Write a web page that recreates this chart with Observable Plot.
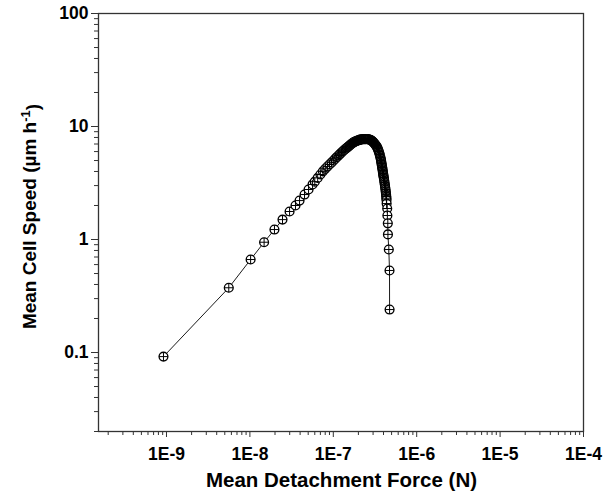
<!DOCTYPE html>
<html><head><meta charset="utf-8">
<script src="https://cdn.jsdelivr.net/npm/d3@7"></script>
<script src="https://cdn.jsdelivr.net/npm/@observablehq/plot@0.6"></script>
<style>html,body{margin:0;padding:0;background:#fff}#chart svg{display:block}</style>
</head><body><div id="chart"></div>
<script>
// Mean detachment force (N)
const force = [
  9.2e-10, 5.58e-9, 1.02e-8, 1.48e-8, 1.97e-8, 2.46e-8, 2.99e-8, 3.52e-8, 3.94e-8, 4.52e-8, 5.05e-8, 5.64e-8,
  6.0e-8, 6.5e-8, 7.0e-8, 7.5e-8, 8.0e-8, 8.5e-8, 9.0e-8, 9.5e-8, 1.0e-7, 1.05e-7, 1.1e-7, 1.15e-7, 1.2e-7,
  1.25e-7, 1.3e-7, 1.35e-7, 1.4e-7, 1.45e-7, 1.5e-7, 1.55e-7, 1.6e-7, 1.65e-7, 1.7e-7, 1.75e-7, 1.8e-7,
  1.85e-7, 1.9e-7, 1.95e-7, 2.0e-7, 2.05e-7, 2.1e-7, 2.15e-7, 2.2e-7, 2.25e-7, 2.3e-7, 2.35e-7, 2.4e-7, 2.45e-7,
  2.536e-7, 2.59e-7, 2.643e-7, 2.70e-7, 2.754e-7, 2.81e-7, 2.871e-7, 2.93e-7, 2.992e-7, 3.055e-7, 3.119e-7,
  3.185e-7, 3.251e-7, 3.305e-7, 3.360e-7, 3.41e-7, 3.464e-7, 3.51e-7, 3.561e-7, 3.60e-7, 3.641e-7, 3.676e-7,
  3.711e-7, 3.737e-7, 3.763e-7, 3.789e-7, 3.815e-7, 3.836e-7, 3.858e-7, 3.884e-7, 3.911e-7, 3.933e-7, 3.955e-7,
  3.977e-7, 3.999e-7, 4.027e-7, 4.055e-7, 4.083e-7, 4.111e-7, 4.14e-7, 4.168e-7, 4.197e-7, 4.226e-7, 4.25e-7,
  4.273e-7, 4.296e-7, 4.320e-7, 4.333e-7, 4.345e-7, 4.36e-7, 4.43e-7, 4.45e-7, 4.504e-7, 4.52e-7,
  4.63e-7, 4.72e-7, 4.73e-7
];
// Mean cell speed (µm/h)
const speed = [
  0.092, 0.374, 0.665, 0.946, 1.225, 1.50, 1.77, 2.00, 2.21, 2.50, 2.77, 3.07,
  3.25, 3.51, 3.76, 4.01, 4.22, 4.42, 4.61, 4.79, 4.98, 5.17, 5.35, 5.53, 5.70,
  5.87, 6.04, 6.20, 6.35, 6.48, 6.61, 6.74, 6.87, 7.01, 7.14, 7.23, 7.32,
  7.38, 7.44, 7.50, 7.55, 7.61, 7.66, 7.68, 7.69, 7.71, 7.72, 7.73, 7.74, 7.73,
  7.72, 7.71, 7.69, 7.67, 7.64, 7.58, 7.52, 7.42, 7.32, 7.20, 7.07,
  6.93, 6.79, 6.67, 6.55, 6.37, 6.19, 6.01, 5.83, 5.65, 5.48, 5.32,
  5.16, 5.00, 4.85, 4.70, 4.56, 4.45, 4.34, 4.21, 4.08, 3.96, 3.84,
  3.74, 3.65, 3.54, 3.43, 3.31, 3.19, 3.08, 2.98, 2.87, 2.77, 2.67,
  2.58, 2.49, 2.40, 2.32, 2.24, 2.08, 1.88, 1.63, 1.39, 1.11,
  0.816, 0.532, 0.240
];
const xMajorTicks = [1e-9, 1e-8, 1e-7, 1e-6, 1e-5, 1e-4];
const xTickLabels = ["1E-9", "1E-8", "1E-7", "1E-6", "1E-5", "1E-4"];
const yMajorTicks = [0.1, 1, 10, 100];
const yTickLabels = ["0.1", "1", "10", "100"];
const xLabel = "Mean Detachment Force (N)";
const yLabelMain = "Mean Cell Speed (µm h";
const yLabelSup = "-1";
const yLabelEnd = ")";

const data = force.map((f, i) => ({force: f, speed: speed[i]}));
const mult = [2, 3, 4, 5, 6, 7, 8, 9];
const xMinor = [];
[1e-10, 1e-9, 1e-8, 1e-7, 1e-6, 1e-5].forEach(d => mult.forEach(m => { const v = m * d; if (v >= 1.5e-10 && v < 1e-4) xMinor.push(v); }));
const yMinor = [];
[0.01, 0.1, 1, 10].forEach(d => mult.forEach(m => { const v = m * d; if (v >= 0.02 && v < 100) yMinor.push(v); }));

// thin cross drawn inside the circle marker (arm length = r)
const crossSymbol = {
  draw(context, size) {
    const a = Math.sqrt(size / Math.PI);
    context.moveTo(-a, 0); context.lineTo(a, 0);
    context.moveTo(0, -a); context.lineTo(0, a);
  }
};

const W = 613, H = 498;
const chart = Plot.plot({
  width: W, height: H,
  marginLeft: 98, marginRight: 30, marginTop: 13, marginBottom: 67,
  style: "font-family: 'Liberation Sans', Arial, sans-serif; font-size: 17.5px; font-weight: bold; color: #000; background: #fff; overflow: visible;",
  x: {type: "log", domain: [1.53e-10, 1e-4]},
  y: {type: "log", domain: [0.02, 100]},
  marks: [
    Plot.axisX(xMinor, {tickSize: 4, tickFormat: () => "", stroke: "#333", label: null}),
    Plot.axisX(xMajorTicks, {tickSize: 6, tickPadding: 10, tickFormat: (d) => xTickLabels[xMajorTicks.indexOf(d)], stroke: "#333", fill: "#000", label: null}),
    Plot.axisY(yMinor, {tickSize: 4, tickFormat: () => "", stroke: "#333", label: null}),
    Plot.axisY(yMajorTicks, {tickSize: 7, tickPadding: 3, tickFormat: (d) => yTickLabels[yMajorTicks.indexOf(d)], stroke: "#333", fill: "#000", label: null}),
    Plot.frame({stroke: "#333", strokeWidth: 1.3}),
    Plot.line(data, {x: "force", y: "speed", stroke: "#000", strokeWidth: 0.9}),
    Plot.dot(data, {x: "force", y: "speed", r: 4.4, fill: "#fff", stroke: "#000", strokeWidth: 1.35}),
    Plot.dot(data, {x: "force", y: "speed", symbol: crossSymbol, r: 4.4, stroke: "#000", strokeWidth: 1})
  ]
});
document.getElementById("chart").appendChild(chart);

const svg = d3.select(chart);
svg.append("text")
  .attr("x", 341.5).attr("y", 487)
  .attr("text-anchor", "middle")
  .style("font-size", "20.5px").style("font-weight", "bold").attr("fill", "#000")
  .text(xLabel);
const yl = svg.append("text")
  .attr("transform", "translate(36,216.5) rotate(-90)")
  .attr("text-anchor", "middle")
  .style("font-size", "19px").style("font-weight", "bold").attr("fill", "#000");
yl.append("tspan").text(yLabelMain);
yl.append("tspan").attr("dy", "-0.45em").style("font-size", "13px").text(yLabelSup);
yl.append("tspan").attr("dy", "0.45em").text(yLabelEnd);
</script>
</body></html>
